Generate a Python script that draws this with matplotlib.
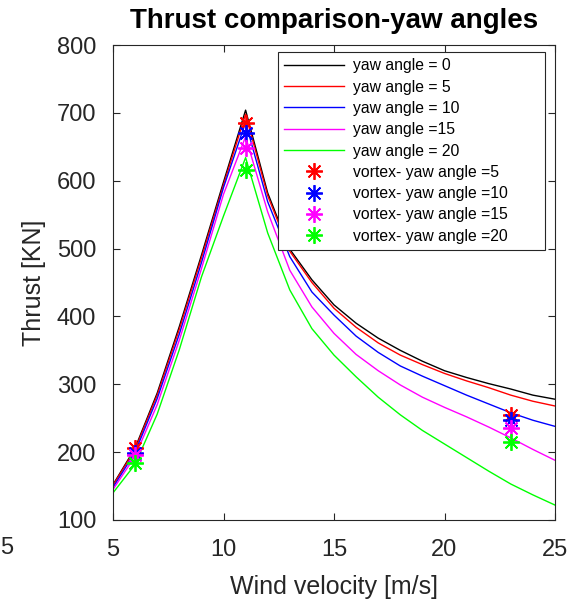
import matplotlib
matplotlib.use("Agg")
import matplotlib.pyplot as plt

plt.rcParams["font.family"] = ["Liberation Sans", "DejaVu Sans"]

wind = list(range(5, 26))

thrust_yaw0 = [152, 206, 287, 385, 490, 598, 704, 582, 499, 454, 417, 390, 368, 350, 334, 320, 310, 301, 293, 284, 278]
thrust_yaw5 = [151, 204, 284, 381, 486, 594, 698, 578, 496, 450, 412, 384, 361, 343, 329, 316, 305, 295, 284, 275, 268]
thrust_yaw10 = [148, 200, 279, 374, 479, 590, 686, 569, 488, 436, 402, 371, 347, 327, 312, 298, 284, 271, 258, 247, 238]
thrust_yaw15 = [145, 194, 270, 365, 470, 580, 665, 554, 468, 414, 375, 344, 320, 299, 281, 266, 252, 237, 221, 204, 188]
thrust_yaw20 = [140, 182, 256, 351, 458, 548, 634, 523, 439, 382, 343, 311, 281, 255, 232, 212, 192, 172, 153, 137, 122]

vortex_wind = [6, 11, 23]
vortex_yaw5 = [206, 685, 255]
vortex_yaw10 = [199, 670, 248]
vortex_yaw15 = [196, 648, 235]
vortex_yaw20 = [184, 616, 215]

line_labels = ["yaw angle = 0", "yaw angle = 5", "yaw angle = 10", "yaw angle =15", "yaw angle = 20"]
vortex_labels = ["vortex- yaw angle =5", "vortex- yaw angle =10", "vortex- yaw angle =15", "vortex- yaw angle =20"]

line_colors = ["#000000", "#ff0000", "#0000ff", "#ff00ff", "#00ff00"]
axis_color = "#262626"

fig = plt.figure(figsize=(5.71, 6.06), dpi=100)
ax = fig.add_axes([113 / 571, 86 / 606, 442 / 571, 475 / 606])

for series, label, color in zip(
    [thrust_yaw0, thrust_yaw5, thrust_yaw10, thrust_yaw15, thrust_yaw20], line_labels, line_colors
):
    ax.plot(wind, series, color=color, lw=1.0, label=label)

for series, label, color in zip(
    [vortex_yaw5, vortex_yaw10, vortex_yaw15, vortex_yaw20], vortex_labels, line_colors[1:]
):
    ax.plot(vortex_wind, series, linestyle="none", marker=(8, 2, 0), markersize=12,
            markeredgewidth=1.3, color=color, label=label)

ax.set_xlim(5, 25)
ax.set_ylim(100, 800)
ax.set_xticks([5, 10, 15, 20, 25])
ax.set_yticks(range(100, 801, 100))
ax.tick_params(direction="in", length=5, width=0.8, top=True, right=True,
               labelsize=17, colors=axis_color)
ax.tick_params(axis="y", pad=12)
ax.tick_params(axis="x", pad=14)
for spine in ax.spines.values():
    spine.set_color(axis_color)
    spine.set_linewidth(0.8)

ax.set_xlabel("Wind velocity [m/s]", fontsize=18, color=axis_color, labelpad=10)
ax.set_ylabel("Thrust [KN]", fontsize=18, color=axis_color, labelpad=8)
ax.set_title("Thrust comparison-yaw angles", fontsize=20, fontweight="bold", pad=12)

# MATLAB-style legend box: wider on the right than the entries need
leg = ax.legend(loc="upper left", bbox_to_anchor=(0.373, 0.3, 0.604, 0.685), mode="expand",
                borderaxespad=0, fontsize=11.3, handlelength=3.8, handletextpad=0.6,
                labelspacing=0.4, borderpad=0.4, fancybox=False, framealpha=1.0,
                edgecolor=axis_color)
leg.get_frame().set_linewidth(0.8)

fig.text(0.5 / 571, 1 - 548 / 606, "5", ha="left", va="center", fontsize=17, color=axis_color)

fig.savefig("out.png", dpi=100)
